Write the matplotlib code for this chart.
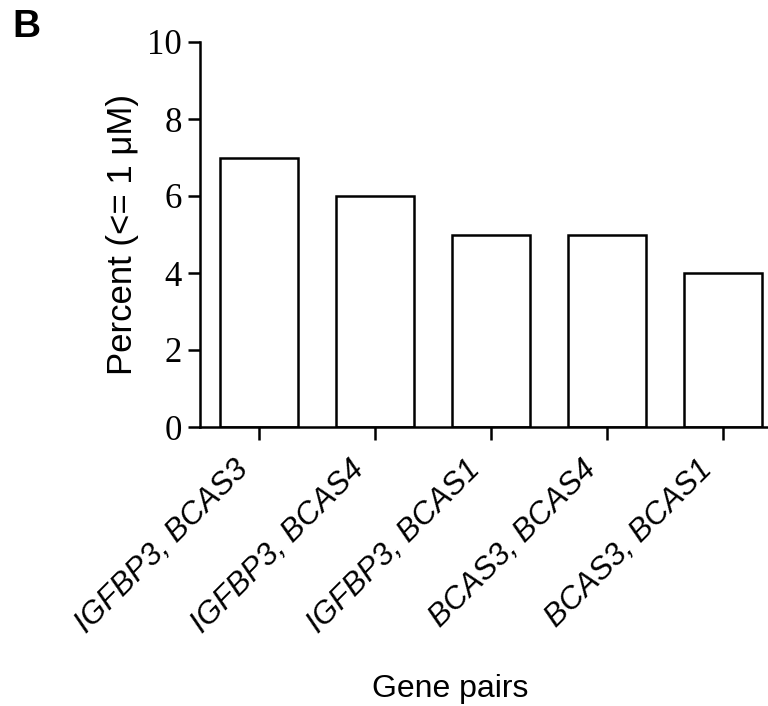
import matplotlib
matplotlib.use("Agg")
import matplotlib.pyplot as plt

categories = ["IGFBP3, BCAS3", "IGFBP3, BCAS4", "IGFBP3, BCAS1", "BCAS3, BCAS4", "BCAS3, BCAS1"]
values = [7, 6, 5, 5, 4]
yticks = [0, 2, 4, 6, 8, 10]

fig = plt.figure(figsize=(7.68, 7.06), dpi=100)
ax = fig.add_axes([200/768, 279/706, 568/768, 385/706])

x = list(range(len(categories)))
ax.bar(x, values, width=0.667, color="white", edgecolor="black", linewidth=1.8)

ax.set_xlim(-0.509, 4.388)
ax.set_ylim(0, 10)
ax.set_yticks(yticks)
ax.set_yticklabels([str(t) for t in yticks], fontfamily="Liberation Serif", fontsize=25)
ax.set_xticks(x)
ax.set_xticklabels([])
for xi, cat in zip(x, categories):
    ax.annotate(cat, xy=(xi, 0), xycoords=("data", "axes fraction"),
                xytext=(-10.8, -27.7), textcoords="offset points",
                rotation=45, ha="right", va="center", rotation_mode="anchor",
                fontfamily="Liberation Sans", fontstyle="italic", fontsize=22.5,
                annotation_clip=False)

for s in ["top", "right"]:
    ax.spines[s].set_visible(False)
for s in ["left", "bottom"]:
    ax.spines[s].set_linewidth(1.8)
ax.tick_params(axis="both", direction="out", length=9, width=1.8, pad=4)

ax.set_ylabel("Percent (<= 1 μM)", fontfamily="Liberation Sans", fontsize=25, labelpad=6)
fig.text(450/768, 1 - 697/706, "Gene pairs", ha="center", va="baseline",
         fontfamily="Liberation Sans", fontsize=23)
fig.text(26/768, 1 - 27/706, "B", ha="center", va="center",
         fontfamily="Liberation Sans", fontweight="bold", fontsize=28)

fig.savefig("out.png", dpi=100)
